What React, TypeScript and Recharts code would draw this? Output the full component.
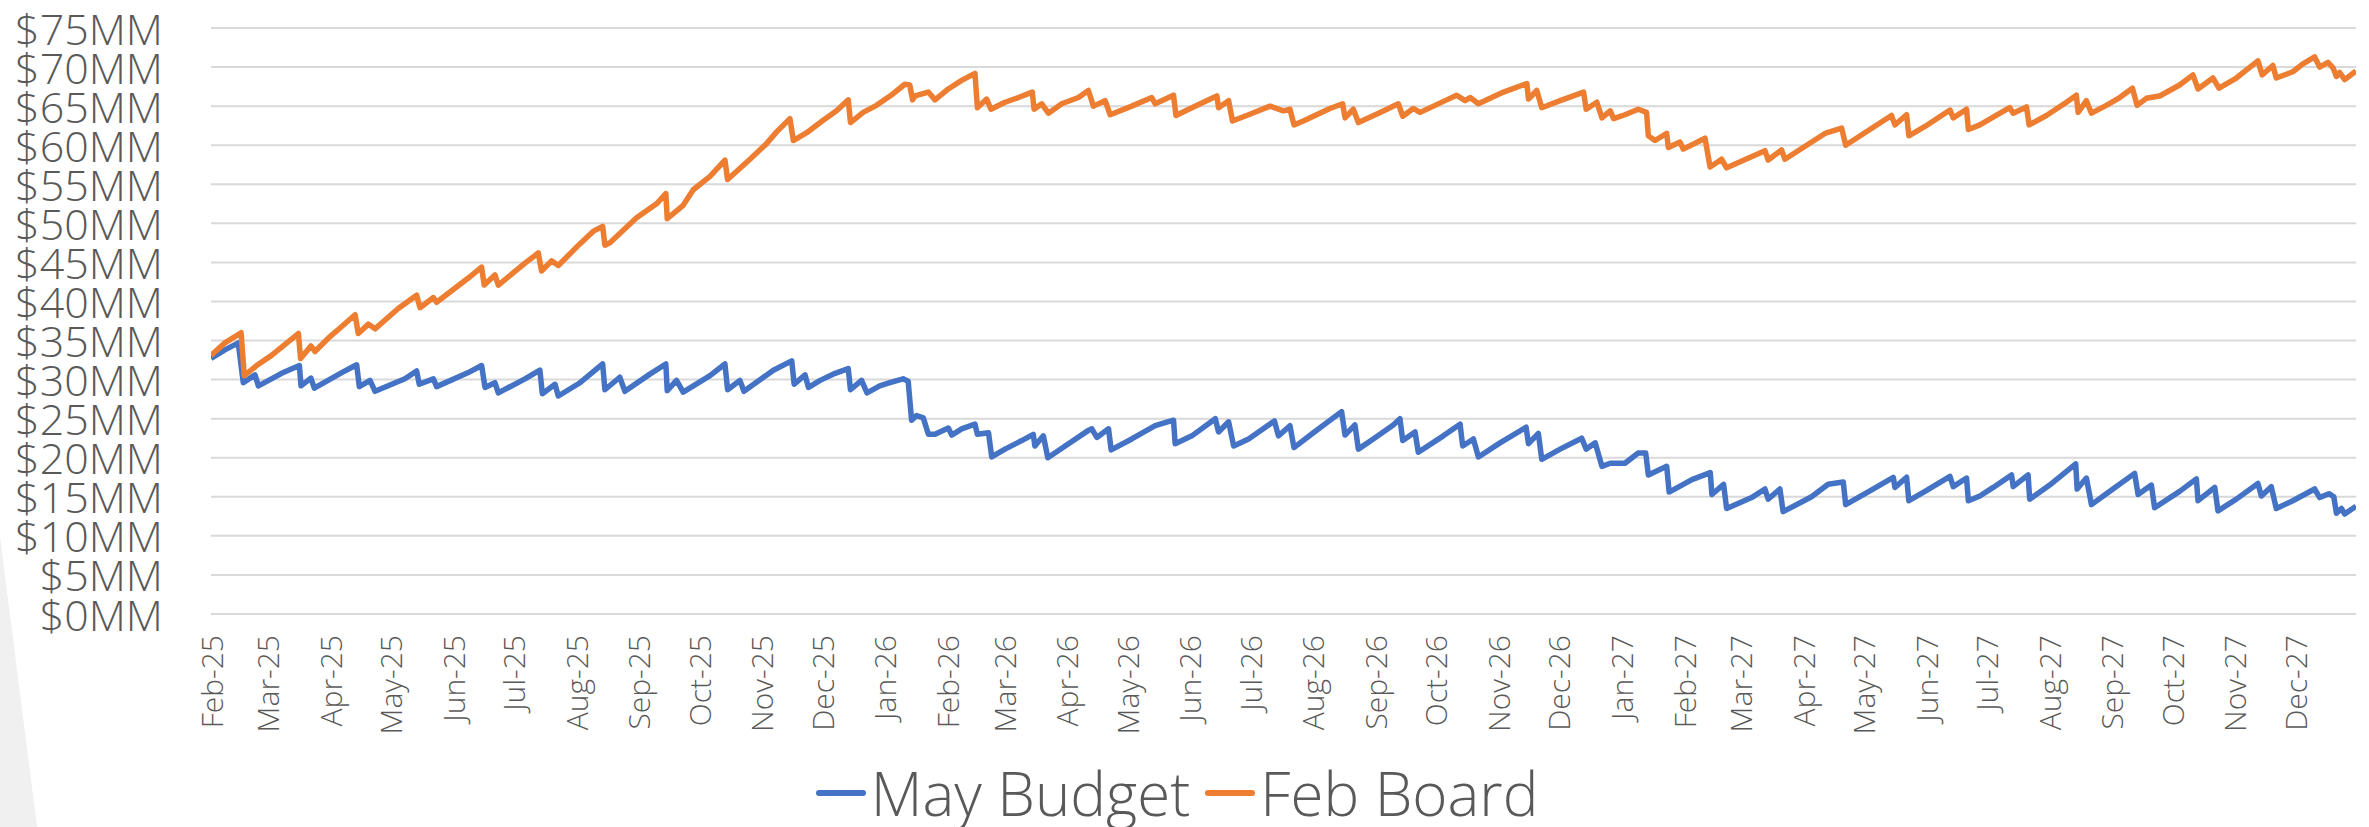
import React from "react";
import { LineChart, Line, XAxis, YAxis, CartesianGrid, Legend } from "recharts";

const WIDTH = 2369;
const HEIGHT = 827;
const FONT = "'Open Sans', 'Noto Sans', sans-serif";
const TEXT = "#595959";
const BLUE = "#4472C4";
const ORANGE = "#ED7D31";

const monthLabels = [
  "Feb-25", "Mar-25", "Apr-25", "May-25", "Jun-25", "Jul-25", "Aug-25", "Sep-25", "Oct-25", "Nov-25", "Dec-25",
  "Jan-26", "Feb-26", "Mar-26", "Apr-26", "May-26", "Jun-26", "Jul-26", "Aug-26", "Sep-26", "Oct-26", "Nov-26", "Dec-26",
  "Jan-27", "Feb-27", "Mar-27", "Apr-27", "May-27", "Jun-27", "Jul-27", "Aug-27", "Sep-27", "Oct-27", "Nov-27", "Dec-27",
];

const yTicks = [0, 5, 10, 15, 20, 25, 30, 35, 40, 45, 50, 55, 60, 65, 70, 75];

const seriesOrder = ["May Budget", "Feb Board"];

// [days since 1 Feb 2025, $MM]
const mayBudget: [number, number][] = [
  [0, 32.7], [6.9, 33.8], [13.5, 34.7], [16, 29.6], [21.8, 30.6], [23.5, 29.2], [35, 30.8], [43.8, 31.8], [44.6, 29.2],
  [49.5, 30.2], [51.2, 28.9], [64.8, 30.9], [72.2, 31.9], [73.5, 29.1], [78.8, 29.9], [81.3, 28.5], [96.1, 30.1],
  [101.9, 31.1], [103.2, 29.4], [110.2, 30.1], [111.8, 29.1], [127.5, 30.9], [134.1, 31.8], [135.8, 29.0], [140.7, 29.6],
  [142.4, 28.3], [155.6, 30.1], [163, 31.2], [164.2, 28.2], [170.5, 29.4], [172.1, 27.9], [182.9, 29.6], [194.1, 32.0],
  [195.2, 28.7], [202.6, 30.3], [205.1, 28.5], [217.5, 30.7], [225.4, 32.0], [226.1, 28.6], [230.7, 29.9], [234, 28.4],
  [247.3, 30.5], [254.7, 32.0], [256, 28.7], [262.1, 29.9], [264.1, 28.5], [278.7, 31.2], [287.8, 32.4], [289, 29.4],
  [294.4, 30.6], [296.1, 29.0], [301.9, 29.9], [309.3, 30.8], [315.8, 31.4], [316.9, 28.7], [322.4, 29.9], [325.1, 28.3],
  [331.4, 29.2], [336.4, 29.6], [343, 30.1], [345.5, 29.8], [347.2, 24.8], [349.7, 25.4], [353, 25.1], [355.5, 23.0],
  [358.8, 23.0], [365.4, 23.8], [367.1, 22.9], [372, 23.7], [378.6, 24.3], [379.8, 23.0], [385.3, 23.2], [386.9, 20.1],
  [393.5, 21.1], [401.8, 22.2], [407.5, 23.0], [408.3, 21.5], [412.5, 22.8], [414.7, 20.0], [423.3, 21.5], [434.8, 23.5],
  [436.5, 23.7], [439, 22.6], [444.8, 23.7], [446.1, 21.0], [456.3, 22.4], [467.9, 24.1], [477, 24.8], [477.8, 21.8],
  [486.1, 22.8], [497.7, 25.0], [499.3, 23.3], [504.3, 24.6], [506.8, 21.5], [514.2, 22.4], [527, 24.7], [529, 22.8],
  [534.7, 24.1], [536.7, 21.3], [546.3, 23.2], [560.3, 25.9], [562, 22.9], [566.9, 24.2], [568.6, 21.1], [576, 22.4],
  [585.9, 24.2], [589.2, 25.0], [590.6, 22.2], [596.7, 23.3], [598.3, 20.7], [610.7, 22.8], [619, 24.3], [620.3, 21.5],
  [625.6, 22.4], [628.1, 20.1], [638.8, 21.9], [651.7, 23.9], [652.9, 21.8], [657.8, 23.1], [659.5, 19.8], [668.6, 21.1],
  [679.3, 22.5], [681.5, 21.1], [686, 21.9], [689.3, 18.9], [693.4, 19.3], [700.7, 19.3], [707.3, 20.6], [711, 20.6],
  [712.3, 17.8], [721.4, 18.9], [722.6, 15.6], [733.9, 17.2], [743, 18.1], [743.8, 15.3], [749.6, 16.6], [751.1, 13.5],
  [763.5, 14.9], [770.1, 16.0], [771.7, 14.7], [777.5, 16.0], [779.1, 13.1], [793.2, 15.0], [801.4, 16.6], [808.9, 16.9],
  [810.1, 14.0], [823, 15.9], [833.7, 17.5], [834.5, 16.2], [840.3, 17.5], [841.4, 14.5], [849.4, 15.7], [861.8, 17.6],
  [863.4, 16.3], [870, 17.4], [870.9, 14.5], [876.6, 15.1], [883.2, 16.2], [892.3, 17.8], [893.1, 16.3], [900.5, 17.8],
  [901.3, 14.7], [911.2, 16.5], [924.1, 19.2], [924.8, 16.0], [929.4, 17.4], [931.9, 14.0], [939.3, 15.4], [953.3, 18.0],
  [955, 15.3], [961.6, 16.5], [963.2, 13.6], [975.6, 15.7], [983.9, 17.3], [984.7, 14.5], [993, 16.2], [994.6, 13.2],
  [1003.7, 14.7], [1014.4, 16.7], [1016.1, 15.1], [1021, 16.3], [1023.5, 13.5], [1031.7, 14.5], [1042.5, 16.0],
  [1045, 14.9], [1049.6, 15.4], [1052, 15.0], [1053.3, 12.9], [1055.8, 13.5], [1057.4, 12.8], [1063, 13.8],
];

const febBoard: [number, number][] = [
  [0, 33.1], [6.9, 34.7], [14.9, 36.0], [16.5, 30.5], [22.6, 31.8], [30, 33.1], [36.7, 34.5], [43.3, 35.9], [44.4, 32.7],
  [49.5, 34.3], [51.5, 33.6], [58.1, 35.3], [64.8, 36.8], [71.4, 38.3], [73, 35.9], [78, 37.1], [81.3, 36.5], [92.8, 39.1],
  [101.9, 40.8], [103.6, 39.2], [110.2, 40.5], [111.8, 39.9], [127.5, 43.0], [134.1, 44.4], [135.4, 42.1], [140.7, 43.4],
  [142.4, 42.1], [155.6, 44.9], [162.2, 46.2], [163.8, 43.9], [168.8, 45.2], [172.1, 44.6], [182.9, 47.4], [189.5, 49.0],
  [194.1, 49.6], [195.2, 47.2], [197.7, 47.5], [210.9, 50.7], [220.8, 52.5], [225.4, 53.8], [226.1, 50.6], [234, 52.3],
  [239, 54.3], [247.3, 56.0], [254.7, 58.1], [256, 55.6], [267.1, 58.2], [275.3, 60.2], [280.3, 61.7], [286.9, 63.4],
  [288.6, 60.6], [295.2, 61.6], [303.4, 63.2], [310, 64.4], [315.8, 65.8], [316.9, 62.9], [323.2, 64.2], [329.8, 65.1],
  [338.1, 66.6], [343.8, 67.8], [346.3, 67.7], [347.7, 65.8], [348.9, 66.3], [355.5, 66.8], [358.8, 65.8], [365.4, 67.2],
  [372, 68.3], [378.6, 69.2], [379.8, 64.8], [384.4, 65.9], [386.5, 64.6], [393.5, 65.5], [400.1, 66.1], [407, 66.8],
  [407.9, 64.6], [411.7, 65.3], [415, 64.1], [421.6, 65.3], [429.9, 66.1], [434.8, 67.0], [437.3, 65.0], [443.1, 65.7],
  [445.6, 63.9], [456.3, 65.0], [466.2, 66.1], [467.9, 65.3], [477, 66.4], [478.2, 63.8], [486.1, 64.8], [496, 66.0],
  [498.5, 66.3], [499.3, 64.8], [504.3, 65.7], [506.2, 63.1], [514.2, 63.9], [524.8, 65.0], [531.4, 64.4], [534.7, 64.6],
  [536.7, 62.6], [541.3, 63.1], [554.5, 64.7], [560.8, 65.3], [562, 63.5], [566.1, 64.6], [568.6, 62.9], [579.4, 64.2],
  [588.4, 65.3], [590.6, 63.7], [595.8, 64.7], [599.2, 64.2], [612.4, 65.8], [617.3, 66.4], [621.5, 65.7], [624, 66.1],
  [628.1, 65.3], [640.5, 66.8], [652.1, 67.9], [652.9, 65.9], [657, 67.0], [659.5, 64.8], [668.6, 65.7], [680.2, 66.8],
  [681.5, 64.6], [686.8, 65.5], [689.3, 63.5], [693.4, 64.4], [695.1, 63.4], [700.7, 63.9], [707.3, 64.6], [711.4, 64.2],
  [712.3, 61.2], [715.6, 60.6], [721.4, 61.5], [722.2, 59.7], [728, 60.4], [729.6, 59.5], [740.4, 60.9], [742.9, 57.2],
  [748.6, 58.2], [751.1, 57.1], [770.1, 59.3], [771.7, 58.1], [778.3, 59.4], [780, 58.2], [799.8, 61.5], [808.1, 62.2],
  [810.1, 60.0], [819.6, 61.6], [832.8, 63.8], [834.5, 62.6], [840.3, 63.9], [841.4, 61.2], [849.4, 62.4], [861.8, 64.5],
  [863.4, 63.5], [870, 64.6], [870.9, 62.0], [876.6, 62.6], [883.2, 63.6], [891.4, 64.8], [893.1, 64.1], [899.7, 64.9],
  [901, 62.6], [909.6, 63.8], [919.5, 65.5], [924.4, 66.4], [925.3, 64.2], [929.4, 65.7], [931.9, 64.1], [939.3, 65.1],
  [945.9, 66.1], [952.2, 67.3], [954.5, 65.1], [959.1, 66.0], [965.7, 66.3], [975.6, 67.7], [982.2, 69.0], [984.7, 67.2],
  [992.1, 68.6], [995.1, 67.3], [1003.7, 68.6], [1008.6, 69.6], [1014.4, 70.8], [1016.5, 69.0], [1021.8, 70.2],
  [1023.5, 68.6], [1031.7, 69.4], [1036.7, 70.4], [1042.5, 71.3], [1045, 70.0], [1049.1, 70.6], [1051.6, 69.9],
  [1053.3, 68.8], [1054.9, 69.3], [1057.4, 68.4], [1063, 69.5],
];

const DAY_MS = 86400000;
const startMs = Date.UTC(2025, 1, 1);
const monthDays = monthLabels.map((_, i) => Math.round((Date.UTC(2025, 1 + i, 1) - startMs) / DAY_MS));
const labelForDay = new Map(monthDays.map((d, i) => [d, monthLabels[i]]));
const lastDay = 1063;

const budgetData = mayBudget.map(([d, v]) => ({ d, v }));
const boardData = febBoard.map(([d, v]) => ({ d, v }));

function YTick({ y, payload }: any) {
  return (
    <text
      x={163}
      y={y}
      textAnchor="end"
      dominantBaseline="central"
      fontFamily={FONT}
      fontWeight={300}
      fontSize={43}
      fill={TEXT}
    >
      {`$${payload.value}MM`}
    </text>
  );
}

function XTick({ x, y, payload }: any) {
  const top = y + 13;
  return (
    <text
      x={x}
      y={top}
      transform={`rotate(-90, ${x}, ${top})`}
      textAnchor="end"
      dominantBaseline="central"
      fontFamily={FONT}
      fontWeight={300}
      fontSize={30}
      fill={TEXT}
    >
      {labelForDay.get(payload.value) ?? ""}
    </text>
  );
}

function LegendContent({ payload }: any) {
  const items = [...(payload || [])].sort(
    (a: any, b: any) => seriesOrder.indexOf(a.value) - seriesOrder.indexOf(b.value)
  );
  return (
    <div
      style={{
        display: "flex",
        justifyContent: "center",
        alignItems: "center",
        height: 72,
        fontFamily: FONT,
        fontWeight: 300,
        fontSize: 60,
        color: TEXT,
        lineHeight: "72px",
        whiteSpace: "nowrap",
      }}
    >
      {items.map((p: any) => (
        <span key={p.value} style={{ display: "inline-flex", alignItems: "center", marginRight: 15 }}>
          <span
            style={{ display: "inline-block", width: 50, height: 6, borderRadius: 3, background: p.color, marginRight: 5 }}
          />
          {p.value}
        </span>
      ))}
    </div>
  );
}

export default function App() {
  return (
    <div style={{ position: "absolute", left: 0, top: 0, width: WIDTH, height: HEIGHT, background: "#fff", overflow: "hidden" }}>
      <div
        style={{
          position: "absolute",
          left: 0,
          top: 0,
          width: 60,
          height: HEIGHT,
          background: "#f0f0f0",
          clipPath: "polygon(0px 537px, 37px 827px, 0px 827px)",
        }}
      />
      <LineChart width={WIDTH} height={HEIGHT} margin={{ top: 28, right: 13, bottom: 0, left: 0 }}>
        <CartesianGrid vertical={false} stroke="#d9d9d9" strokeWidth={2} />
        <XAxis
          type="number"
          dataKey="d"
          domain={[0, lastDay]}
          ticks={monthDays}
          interval={0}
          height={213}
          axisLine={false}
          tickLine={false}
          tick={<XTick />}
          allowDataOverflow
        />
        <YAxis
          type="number"
          domain={[0, 75]}
          ticks={yTicks}
          interval={0}
          width={211}
          axisLine={false}
          tickLine={false}
          tick={<YTick />}
        />
        <Legend
          verticalAlign="middle"
          align="center"
          layout="horizontal"
          content={<LegendContent />}
          wrapperStyle={{ top: 757, left: 0, width: WIDTH, height: 72 }}
        />
        <Line
          data={budgetData}
          dataKey="v"
          name="May Budget"
          type="linear"
          stroke={BLUE}
          strokeWidth={5.5}
          strokeLinejoin="round"
          dot={false}
          activeDot={false}
          isAnimationActive={false}
        />
        <Line
          data={boardData}
          dataKey="v"
          name="Feb Board"
          type="linear"
          stroke={ORANGE}
          strokeWidth={5.5}
          strokeLinejoin="round"
          dot={false}
          activeDot={false}
          isAnimationActive={false}
        />
      </LineChart>
    </div>
  );
}
